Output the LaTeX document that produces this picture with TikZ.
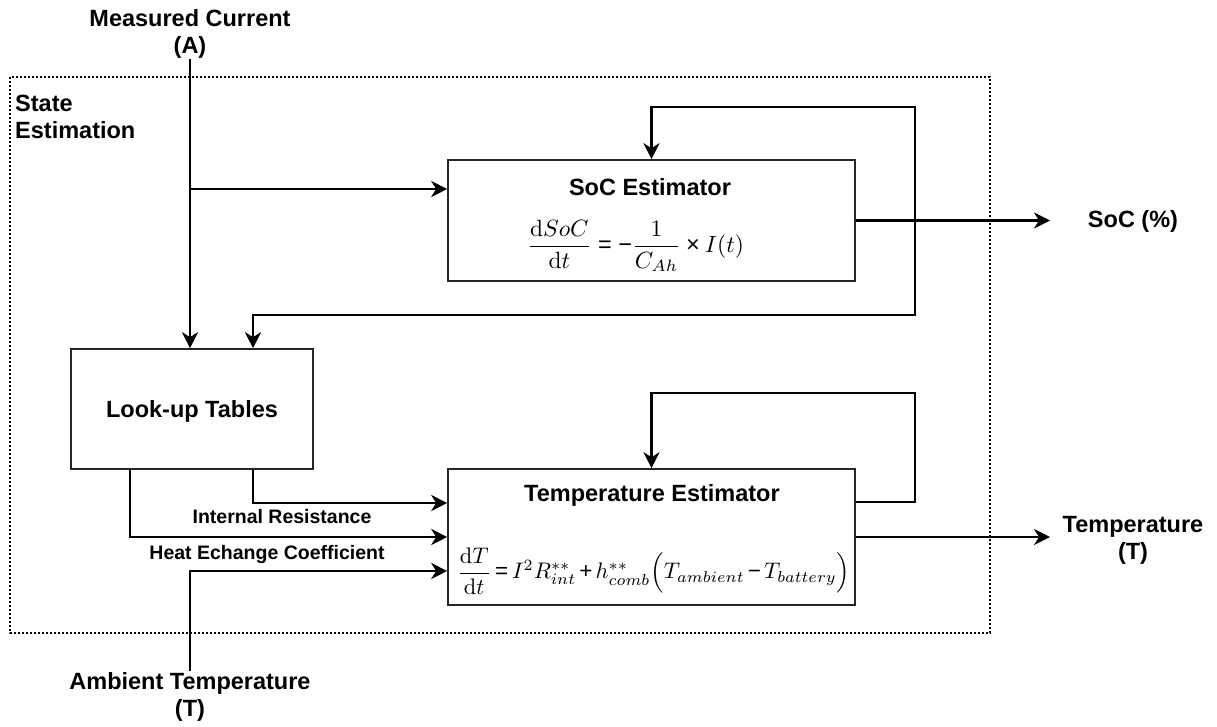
\documentclass[tikz,border=0pt]{standalone}
\usepackage{amsmath}
\usepackage{graphicx}
\usepackage[no-math]{fontspec}
\setmainfont{Liberation Sans}
\usetikzlibrary{arrows.meta}
\newcommand{\opEq}{\mathrel{\text{=}}}
\newcommand{\opPlus}{\mathbin{\text{+}}}
\newcommand{\opMinus}{\mathbin{\text{−}}}
\newcommand{\opNeg}{\mathord{\text{−}}}
\newcommand{\opTimes}{\mathbin{\text{×}}}
\begin{document}
\begin{tikzpicture}[x=1pt,y=-1pt,
  conn/.style={line width=2.6pt},
  arr/.style={conn,-{Stealth[length=16pt,width=16pt,inset=5pt]}},
  blk/.style={draw=black!85, line width=1.6pt, inner sep=0pt},
  lab/.style={font=\fontsize{23.5}{27}\selectfont\bfseries, align=center, inner sep=1pt},
  small/.style={font=\fontsize{19.5}{22}\selectfont\bfseries, inner sep=0pt},
  eqn/.style={inner sep=0pt},
  frame/.style={line width=2pt, dash pattern=on 2pt off 2pt}
]
\useasboundingbox (0,0) rectangle (1217,726);

% dotted frame
\draw[frame] (10,77) rectangle (990,633);
\node[lab, align=left, anchor=west] (state) at (14,116.5) {State\\Estimation};

% blocks
\node[blk, minimum width=407pt, minimum height=121pt] (soc) at (651.5,220.5) {};
\node[lab] (socT) at (650,187) {SoC Estimator};
\node[eqn, anchor=west] (socE) at (527,246) {\scalebox{2.35}{$\dfrac{\mathrm{d}SoC}{\mathrm{d}t} \opEq \opNeg\dfrac{1}{C_{Ah}} \opTimes I(t)$}};

\node[blk, minimum width=242pt, minimum height=120pt] (lut) at (192,409) {};
\node[lab] (lutT) at (192,411) {Look-up Tables};

\node[blk, minimum width=407pt, minimum height=136pt] (temp) at (651.5,537) {};
\node[lab] (tempT) at (652,495) {Temperature Estimator};
\node[eqn, anchor=west] (tempE) at (457,571) {\scalebox{2.25}{$\thickmuskip=3mu\medmuskip=2.5mu\dfrac{\mathrm{d}T}{\mathrm{d}t} \opEq I^2 R_{int}^{**} \opPlus h_{comb}^{**}\Big(T_{ambient} \opMinus T_{battery}\Big)$}};

% external labels
\node[lab] (mc) at (190,33.5) {Measured Current\\(A)};
\node[lab] (amb) at (190,697) {Ambient Temperature\\(T)};
\node[lab] (socout) at (1133,221) {SoC (\%)};
\node[lab] (tempout) at (1133,540) {Temperature\\(T)};
\node[small] (ir) at (282,517) {Internal Resistance};
\node[small] (hc) at (267,554) {Heat Echange Coefficient};

% helper coordinates
\coordinate (j1) at (191,189);
\coordinate (rail) at (915,220.5);
\coordinate (socTop) at (915,107);
\coordinate (lutIn) at (253,315);
\coordinate (tempTop) at (915,393);
\coordinate (socend) at (1050,220.5);
\coordinate (tempend) at (1050,537);

% connectors
\draw[arr] (mc.south) -- (mc.south |- lut.north);
\draw[arr] (j1) -- (j1 -| soc.west);
\draw[arr] (soc.east) -- (socend);
\draw[arr] (soc.east) -- (rail) -- (socTop) -| (soc.north);
\draw[arr] (rail) |- (lutIn) -- (lutIn |- lut.north);
\draw[arr] ([xshift=-62pt]lut.south) |- (temp.west);
\draw[arr] ([xshift=61pt]lut.south) |- ([yshift=34pt]temp.west);
\draw[arr] (amb.north) |- ([yshift=-34pt]temp.west);
\draw[arr] ([yshift=35pt]temp.east) -| (tempTop) -| (temp.north);
\draw[arr] (temp.east) -- (tempend);
\end{tikzpicture}
\end{document}
